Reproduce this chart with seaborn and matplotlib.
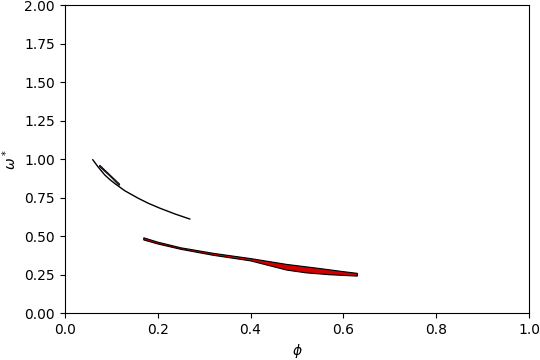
import matplotlib
matplotlib.use("Agg")
import matplotlib.pyplot as plt
import seaborn as sns
import numpy as np
import pandas as pd

# Black curve (lower-flow branch)
curve_phi = [0.0603, 0.0718, 0.0862, 0.097, 0.108, 0.129, 0.158, 0.18, 0.205, 0.237, 0.269]
curve_omega = [0.997, 0.950, 0.898, 0.868, 0.842, 0.796, 0.747, 0.714, 0.682, 0.645, 0.612]

# Thin sliver near the start of the black curve
sliver_phi = [0.0754, 0.097, 0.1185, 0.1170, 0.097, 0.0740]
sliver_omega = [0.962, 0.900, 0.838, 0.830, 0.891, 0.954]

# Red region: upper and lower boundaries
red_upper_phi = [0.17, 0.20, 0.25, 0.32, 0.40, 0.478, 0.55, 0.60, 0.63]
red_upper_omega = [0.490, 0.462, 0.425, 0.389, 0.355, 0.317, 0.290, 0.270, 0.259]
red_lower_phi = [0.17, 0.20, 0.25, 0.32, 0.40, 0.478, 0.52, 0.57, 0.63]
red_lower_omega = [0.476, 0.450, 0.415, 0.376, 0.340, 0.280, 0.262, 0.250, 0.241]

fig, ax = plt.subplots(figsize=(5.4, 3.6), dpi=100)

df = pd.DataFrame({"phi": curve_phi, "omega": curve_omega})
sns.lineplot(data=df, x="phi", y="omega", ax=ax, color="black", linewidth=1.0, sort=False)

ax.fill(sliver_phi, sliver_omega, facecolor="#5a2a6a", edgecolor="black", linewidth=0.6)

poly_x = red_upper_phi + red_lower_phi[::-1]
poly_y = red_upper_omega + red_lower_omega[::-1]
ax.fill(poly_x, poly_y, facecolor="#d00000", edgecolor="black", linewidth=0.8)

ax.set_xlim(0, 1)
ax.set_ylim(0, 2)
ax.set_xticks([0.0, 0.2, 0.4, 0.6, 0.8, 1.0])
ax.set_yticks(np.arange(0, 2.01, 0.25))
ax.set_xlabel(r"$\phi$")
ax.set_ylabel(r"$\omega^*$")

fig.subplots_adjust(left=0.12, right=0.98, bottom=0.13, top=0.985)
fig.savefig("out.png", dpi=100)
